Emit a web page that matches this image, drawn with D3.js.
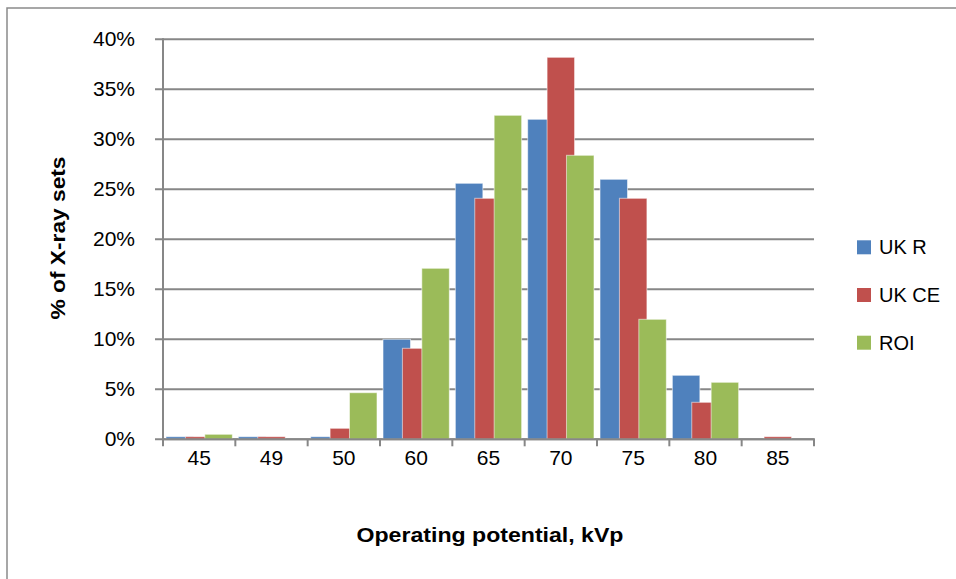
<!DOCTYPE html>
<html><head><meta charset="utf-8">
<script src="https://cdn.jsdelivr.net/npm/d3@7"></script>
<style>body{margin:0;background:#fff;} svg{display:block;}</style>
</head><body>
<svg id="c" width="956" height="579"></svg>
<script>
const categories = ["45","49","50","60","65","70","75","80","85"];
const seriesNames = ["UK R","UK CE","ROI"];
const ukR  = [0.26, 0.26, 0.26, 10.0, 25.6, 32.0, 26.0, 6.4, 0];
const ukCE = [0.26, 0.26, 1.1, 9.1, 24.1, 38.2, 24.1, 3.7, 0.26];
const roi  = [0.5, 0, 4.66, 17.1, 32.4, 28.4, 12.0, 5.7, 0];
const yTicks = [0,5,10,15,20,25,30,35,40];
const colors = ["#4F81BD","#C0504D","#9BBB59"];
const series = [ukR, ukCE, roi];

const svg = d3.select("#c");
const font = "'Liberation Sans', Arial, sans-serif";
const x0 = 163, x1 = 814, yTop = 39.3, yBot = 439.3;

// outer border
svg.append("path").attr("d","M7,579 L7,8 L956,8").attr("fill","none").attr("stroke","#8a8a8a").attr("stroke-width",1.5);

const x = d3.scaleBand().domain(categories).range([x0,x1]).paddingInner(0).paddingOuter(0);
const y = d3.scaleLinear().domain([0,40]).range([yBot,yTop]);

// gridlines
svg.append("g").selectAll("line").data(yTicks).join("line")
  .attr("x1",155).attr("x2",x1).attr("y1",d=>y(d)).attr("y2",d=>y(d))
  .attr("stroke","#878787").attr("stroke-width",2);

// bars
const bw = 27.5, step = 19.4;
const groupSpan = bw + 2*step;
series.forEach((vals,si)=>{
  svg.append("g").selectAll("rect").data(vals.map((v,i)=>({v,c:categories[i]}))).join("rect")
    .filter(d=>d.v>0)
    .attr("x",d=>x(d.c)+(x.bandwidth()-groupSpan)/2+si*step)
    .attr("y",d=>y(d.v))
    .attr("width",bw)
    .attr("height",d=>yBot-y(d.v))
    .attr("fill",colors[si])
    .attr("stroke","rgba(255,255,255,0.55)").attr("stroke-width",1);
});

// y axis line
svg.append("line").attr("x1",x0).attr("x2",x0).attr("y1",yTop-1).attr("y2",yBot+1)
  .attr("stroke","#878787").attr("stroke-width",2);
// x axis with ticks at boundaries
svg.append("line").attr("x1",x0).attr("x2",x1+1).attr("y1",yBot).attr("y2",yBot)
  .attr("stroke","#878787").attr("stroke-width",2);
const bounds = categories.map(c=>x(c)).concat([x1]);
svg.append("g").selectAll("line").data(bounds).join("line")
  .attr("x1",d=>d).attr("x2",d=>d).attr("y1",yBot).attr("y2",yBot+7)
  .attr("stroke","#878787").attr("stroke-width",2);

// y labels
svg.append("g").selectAll("text").data(yTicks).join("text")
  .attr("x",135).attr("y",d=>y(d)+7)
  .attr("text-anchor","end").attr("font-family",font).attr("font-size",21).attr("fill","#000")
  .text(d=>d+"%");
// x labels
svg.append("g").selectAll("text").data(categories).join("text")
  .attr("x",d=>x(d)+x.bandwidth()/2).attr("y",465)
  .attr("text-anchor","middle").attr("font-family",font).attr("font-size",21).attr("fill","#000")
  .text(d=>d);

// axis titles
svg.append("text").attr("x",490).attr("y",542).attr("text-anchor","middle")
  .attr("font-family",font).attr("font-size",21).attr("font-weight","bold")
  .attr("textLength",267).attr("lengthAdjust","spacingAndGlyphs").text("Operating potential, kVp");
svg.append("text").attr("transform","translate(65,238) rotate(-90)").attr("text-anchor","middle")
  .attr("font-family",font).attr("font-size",21).attr("font-weight","bold")
  .attr("textLength",163).attr("lengthAdjust","spacingAndGlyphs").text("% of X-ray sets");

// legend
const ly = [247.3, 295, 342.7];
const lg = svg.append("g").selectAll("g").data(seriesNames).join("g");
lg.append("rect").attr("x",857).attr("y",(d,i)=>ly[i]-7).attr("width",14).attr("height",14).attr("fill",(d,i)=>colors[i]);
lg.append("text").attr("x",879).attr("y",(d,i)=>ly[i]+7)
  .attr("font-family",font).attr("font-size",20).text(d=>d);
</script>
</body></html>
